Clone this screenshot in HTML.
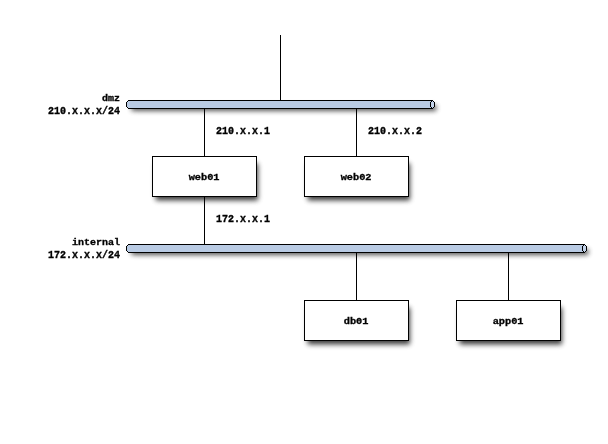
<!DOCTYPE html>
<html><head><meta charset="utf-8">
<style>
html,body{margin:0;padding:0;background:#fff;}
body{width:608px;height:444px;overflow:hidden;}
svg{display:block;}
text{font-family:"Liberation Mono",monospace;font-weight:bold;font-size:10px;fill:#000;stroke:#000;stroke-width:0.35px;}
</style></head><body>
<svg width="608" height="444" viewBox="0 0 608 444">
<defs>
<filter id="sb" filterUnits="userSpaceOnUse" x="0" y="0" width="608" height="444"><feGaussianBlur stdDeviation="2.68"/></filter>
<filter id="sw" filterUnits="userSpaceOnUse" x="0" y="0" width="608" height="444"><feGaussianBlur stdDeviation="4.2"/></filter>
</defs>
<rect width="608" height="444" fill="#fff"/>
<g filter="url(#sb)" fill="#000" opacity="0.74">
<rect x="131.6" y="105.35" width="304.6" height="5.17"/>
<rect x="131.6" y="249.35" width="456.6" height="5.17"/>
<rect x="155.7" y="163.5" width="102.2" height="36.8"/>
<rect x="307.7" y="163.5" width="102.2" height="36.8"/>
<rect x="307.7" y="307.5" width="102.2" height="36.8"/>
<rect x="459.7" y="307.5" width="102.2" height="36.8"/>
</g>
<g filter="url(#sw)" fill="#000" opacity="0.07">
<rect x="131.6" y="105.35" width="304.6" height="5.17"/>
<rect x="131.6" y="249.35" width="456.6" height="5.17"/>
<rect x="155.7" y="163.5" width="102.2" height="36.8"/>
<rect x="307.7" y="163.5" width="102.2" height="36.8"/>
<rect x="307.7" y="307.5" width="102.2" height="36.8"/>
<rect x="459.7" y="307.5" width="102.2" height="36.8"/>
</g>
<g fill="#000" shape-rendering="crispEdges">
<rect x="280" y="35" width="1" height="66"/>
<rect x="204" y="108" width="1" height="48"/>
<rect x="356" y="108" width="1" height="48"/>
<rect x="204" y="196" width="1" height="48"/>
<rect x="356" y="252" width="1" height="48"/>
<rect x="508" y="252" width="1" height="48"/>
</g>
<g shape-rendering="crispEdges">
<rect x="128" y="101" width="305" height="7" fill="#b9cbe4"/>
<rect x="127" y="101" width="1" height="7" fill="#b9cbe4"/>
<rect x="126" y="102" width="1" height="5" fill="#b9cbe4"/>
<rect x="431" y="101" width="3" height="7" fill="#c3d3ea"/>
<rect x="434" y="102" width="1" height="5" fill="#c3d3ea"/>
<rect x="128" y="100" width="305" height="1" fill="#000"/>
<rect x="128" y="108" width="305" height="1" fill="#000"/>
<rect x="126" y="102" width="1" height="5" fill="#000"/>
<rect x="127" y="101" width="1" height="1" fill="#000"/>
<rect x="127" y="107" width="1" height="1" fill="#000"/>
<rect x="432" y="100" width="1" height="1" fill="#000"/>
<rect x="431" y="101" width="1" height="1" fill="#000"/>
<rect x="433" y="101" width="1" height="1" fill="#000"/>
<rect x="430" y="102" width="1" height="5" fill="#000"/>
<rect x="434" y="102" width="1" height="5" fill="#000"/>
<rect x="431" y="107" width="1" height="1" fill="#000"/>
<rect x="433" y="107" width="1" height="1" fill="#000"/>
<rect x="432" y="108" width="1" height="1" fill="#000"/>
<rect x="128" y="245" width="457" height="7" fill="#b9cbe4"/>
<rect x="127" y="245" width="1" height="7" fill="#b9cbe4"/>
<rect x="126" y="246" width="1" height="5" fill="#b9cbe4"/>
<rect x="583" y="245" width="3" height="7" fill="#c3d3ea"/>
<rect x="586" y="246" width="1" height="5" fill="#c3d3ea"/>
<rect x="128" y="244" width="457" height="1" fill="#000"/>
<rect x="128" y="252" width="457" height="1" fill="#000"/>
<rect x="126" y="246" width="1" height="5" fill="#000"/>
<rect x="127" y="245" width="1" height="1" fill="#000"/>
<rect x="127" y="251" width="1" height="1" fill="#000"/>
<rect x="584" y="244" width="1" height="1" fill="#000"/>
<rect x="583" y="245" width="1" height="1" fill="#000"/>
<rect x="585" y="245" width="1" height="1" fill="#000"/>
<rect x="582" y="246" width="1" height="5" fill="#000"/>
<rect x="586" y="246" width="1" height="5" fill="#000"/>
<rect x="583" y="251" width="1" height="1" fill="#000"/>
<rect x="585" y="251" width="1" height="1" fill="#000"/>
<rect x="584" y="252" width="1" height="1" fill="#000"/>
</g>
<g stroke="#000" stroke-width="1" fill="#fff" shape-rendering="crispEdges">
<rect x="152.5" y="156.5" width="104" height="40"/>
<rect x="304.5" y="156.5" width="104" height="40"/>
<rect x="304.5" y="300.5" width="104" height="40"/>
<rect x="456.5" y="300.5" width="104" height="40"/>
</g>
<g opacity="0.999">
<g text-anchor="middle">
<text transform="translate(204.1,180) scale(1.03,0.97)">web01</text>
<text transform="translate(356.1,180) scale(1.03,0.97)">web02</text>
<text transform="translate(356.1,324) scale(1.03,0.97)">db01</text>
<text transform="translate(508.1,324) scale(1.03,0.97)">app01</text>
</g>
<g text-anchor="end">
<text transform="translate(120,101) scale(1,0.93)">dmz</text>
<text transform="translate(120,114) scale(1,1)">210.x.x.x/24</text>
<text transform="translate(120,245) scale(1,0.93)">internal</text>
<text transform="translate(120,258) scale(1,1)">172.x.x.x/24</text>
</g>
<g>
<text transform="translate(216,134) scale(1,1)">210.x.x.1</text>
<text transform="translate(368,134) scale(1,1)">210.x.x.2</text>
<text transform="translate(216,222) scale(1,1)">172.x.x.1</text>
</g>
</g>
</svg>
</body></html>
